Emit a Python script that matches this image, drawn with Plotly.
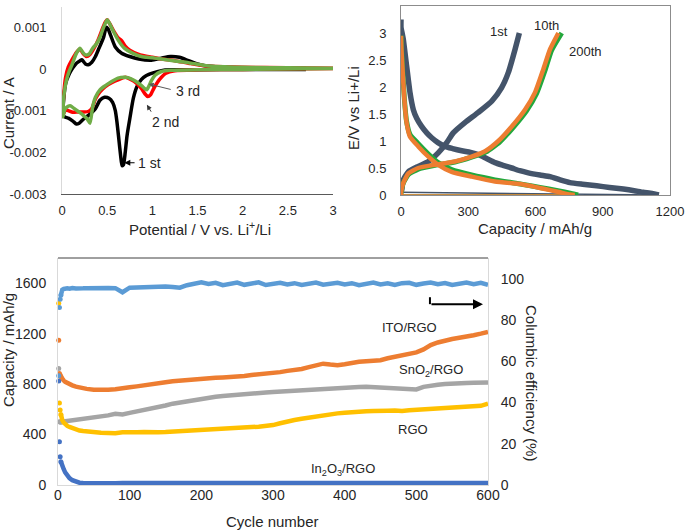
import plotly.graph_objects as go

# ---------------- Top-left: cyclic voltammetry ----------------
cv1_v = [2.7, 2.0, 1.5, 1.2, 1.1, 1.0, 0.93, 0.88, 0.83, 0.79, 0.75, 0.72, 0.70, 0.68, 0.665, 0.65, 0.63, 0.61, 0.59, 0.56, 0.52, 0.47, 0.42, 0.37, 0.30, 0.24, 0.19, 0.16, 0.12, 0.07, 0.03, 0.01,
         0.02, 0.04, 0.08, 0.12, 0.16, 0.2, 0.22, 0.26, 0.29, 0.33, 0.37, 0.41, 0.46, 0.49, 0.51, 0.54, 0.59, 0.66, 0.75, 0.85, 0.99, 1.1, 1.2, 1.3, 1.4, 1.5, 1.6, 1.8, 2.0, 2.5, 2.7]
cv1_i = [-0.00001, -0.00001, -0.00002, -0.00002, -0.00004, -0.0001, -0.00016, -0.00025, -0.00042, -0.0007, -0.0012, -0.0016, -0.002, -0.0023, -0.00232, -0.0021, -0.0017, -0.0013, -0.001, -0.0008, -0.0007, -0.00068, -0.00075, -0.00095, -0.0011, -0.0012, -0.0013, -0.00132, -0.00125, -0.00118, -0.00115, -0.0011,
         -0.0007, -0.00035, -0.00012, 0.00003, 0.00014, 0.0002, 0.00022, 0.00012, 0.0001, 0.00016, 0.0003, 0.0005, 0.00076, 0.001, 0.00096, 0.0008, 0.00053, 0.00038, 0.0003, 0.00024, 0.00021, 0.00026, 0.0003, 0.00028, 0.0002, 0.00012, 0.00007, 0.00004, 0.00003, 0.00002, 0.00001]

cv2_v = [3.0, 2.0, 1.5, 1.25, 1.15, 1.08, 1.02, 0.98, 0.95, 0.92, 0.88, 0.83, 0.76, 0.70, 0.62, 0.55, 0.48, 0.42, 0.37, 0.33, 0.29, 0.24, 0.18, 0.12, 0.07, 0.04, 0.01,
         0.02, 0.04, 0.07, 0.11, 0.16, 0.2, 0.23, 0.27, 0.31, 0.35, 0.40, 0.45, 0.48, 0.50, 0.53, 0.57, 0.62, 0.66, 0.70, 0.75, 0.85, 1.0, 1.1, 1.25, 1.4, 1.6, 2.0, 2.5, 3.0]
cv2_i = [0.00001, -0.00001, -0.00002, -0.00004, -0.0001, -0.00025, -0.00045, -0.00062, -0.00066, -0.0006, -0.00047, -0.00035, -0.00025, -0.0002, -0.00026, -0.00033, -0.00042, -0.00055, -0.00072, -0.00095, -0.00102, -0.00103, -0.00103, -0.00104, -0.001, -0.00098, -0.0011,
         -0.0006, -0.0002, 0.00005, 0.00022, 0.0004, 0.00048, 0.00038, 0.0003, 0.00035, 0.00048, 0.0007, 0.00098, 0.00113, 0.00118, 0.00108, 0.00092, 0.00075, 0.00068, 0.00055, 0.00045, 0.00035, 0.00028, 0.00024, 0.0002, 0.00014, 0.00007, 0.00004, 0.00003, 0.00002]

cv3_v = [3.0, 2.0, 1.5, 1.2, 1.1, 1.03, 0.99, 0.96, 0.94, 0.91, 0.87, 0.82, 0.76, 0.70, 0.62, 0.55, 0.48, 0.42, 0.37, 0.34, 0.31, 0.28, 0.23, 0.18, 0.13, 0.09, 0.05, 0.03, 0.01,
         0.02, 0.05, 0.08, 0.11, 0.16, 0.2, 0.23, 0.26, 0.30, 0.34, 0.38, 0.42, 0.46, 0.48, 0.50, 0.53, 0.56, 0.62, 0.69, 0.78, 0.88, 1.0, 1.1, 1.25, 1.4, 1.6, 2.0, 2.5, 3.0]
cv3_i = [0.00001, -0.00001, -0.00002, -0.00003, -0.00006, -0.00015, -0.00028, -0.00042, -0.0005, -0.00046, -0.00038, -0.0003, -0.00023, -0.0002, -0.00022, -0.0003, -0.0004, -0.0005, -0.00068, -0.0009, -0.0013, -0.0012, -0.0011, -0.00102, -0.00094, -0.00088, -0.00092, -0.00098, -0.00115,
         -0.00065, -0.00026, -0.00005, 0.0001, 0.00038, 0.0005, 0.0004, 0.00034, 0.00036, 0.0005, 0.0006, 0.00076, 0.001, 0.0011, 0.00118, 0.00108, 0.00094, 0.0007, 0.0005, 0.00038, 0.0003, 0.00027, 0.00024, 0.00019, 0.00015, 0.00008, 0.00004, 0.00003, 0.00002]

cv_yticks = [-0.003, -0.002, -0.001, 0, 0.001]
cv_yticktext = ["-0.003", "-0.002", "-0.001", "0", "0.001"]
cv_xticks = [0, 0.5, 1, 1.5, 2, 2.5, 3]
cv_xticktext = ["0", "0.5", "1", "1.5", "2", "2.5", "3"]

# ---------------- Top-right: charge / discharge ----------------
c1_dis_cap = [0, 0, 5, 10, 25, 40, 55, 70, 92, 115, 137, 165, 196, 230, 271, 310, 345, 380, 419, 455, 494, 530, 568, 620, 665, 710, 754, 810, 873, 930, 992, 1040, 1081, 1120, 1150]
c1_dis_e = [3.25, 3.1, 3.0, 2.89, 2.39, 1.9, 1.58, 1.42, 1.27, 1.15, 1.06, 0.97, 0.9, 0.86, 0.82, 0.79, 0.75, 0.68, 0.6, 0.55, 0.5, 0.45, 0.41, 0.37, 0.34, 0.28, 0.23, 0.2, 0.17, 0.14, 0.11, 0.08, 0.05, 0.03, 0.0]
c1_chg_cap = [0, 3, 10, 33, 77, 122, 166, 204, 233, 285, 345, 405, 449, 479, 509, 528]
c1_chg_e = [0.05, 0.09, 0.28, 0.43, 0.53, 0.62, 0.78, 0.97, 1.15, 1.34, 1.53, 1.74, 1.99, 2.27, 2.7, 3.0]

c10_dis_cap = [0, 2, 6, 15, 25, 40, 77, 122, 166, 226, 315, 419, 538, 575, 620, 665, 710, 754, 775]
c10_dis_e = [2.95, 2.7, 2.39, 1.77, 1.34, 1.08, 0.9, 0.71, 0.56, 0.43, 0.34, 0.25, 0.2, 0.17, 0.13, 0.09, 0.05, 0.01, 0.0]
c10_chg_cap = [0, 0, 10, 33, 77, 152, 241, 315, 375, 434, 494, 553, 598, 635, 665, 702]
c10_chg_e = [0.0, 0.03, 0.22, 0.4, 0.5, 0.56, 0.62, 0.71, 0.81, 1.0, 1.27, 1.58, 1.9, 2.33, 2.7, 3.0]

c200_dis_cap = [0, 2, 6, 15, 25, 40, 77, 122, 166, 226, 315, 419, 538, 620, 700, 760, 790]
c200_dis_e = [2.95, 2.7, 2.4, 1.78, 1.36, 1.12, 0.95, 0.76, 0.6, 0.47, 0.37, 0.28, 0.2, 0.14, 0.08, 0.03, 0.0]
c200_chg_cap = [0, 0, 10, 33, 77, 152, 241, 315, 380, 440, 500, 560, 605, 642, 672, 717]
c200_chg_e = [0.0, 0.03, 0.22, 0.38, 0.48, 0.55, 0.61, 0.7, 0.8, 0.98, 1.25, 1.56, 1.88, 2.3, 2.68, 3.0]

# ---------------- Bottom: cycling performance ----------------
cycles = [1, 2, 3, 4, 5, 6, 8, 10, 13, 16, 20, 25, 30, 35, 40,
          50, 60, 70, 80, 90, 100, 110, 120, 130, 140, 150, 160, 170, 180, 190, 200,
          210, 220, 230, 240, 250, 260, 270, 280, 290, 300, 310, 320, 330, 340, 350,
          360, 370, 380, 390, 400, 410, 420, 430, 440, 450, 460, 470, 480, 490, 500,
          510, 520, 530, 540, 550, 560, 570, 580, 590, 600]
efficiency = [53, 86, 90, 92, 94, 94.6, 95, 95.2, 95.3, 95.1, 95.4, 95.2, 95.5, 95.3, 95.4,
              95.6, 95.3, 95.5, 95.4, 93.4, 95.6, 95.8, 95.9, 96.0, 96.1, 96.2, 96.0, 95.6, 96.8, 97.5, 98.2,
              97.4, 98.0, 96.8, 97.6, 98.1, 97.0, 97.8, 98.2, 96.9, 97.4, 98.0, 97.2, 97.8, 96.9, 97.6,
              98.1, 97.1, 97.5, 98.0, 97.2, 97.8, 96.8, 97.6, 98.1, 97.2, 97.7, 96.9, 97.8, 98.0, 97.0,
              97.6, 98.1, 97.3, 97.9, 96.9, 97.5, 98.1, 97.3, 98.0, 97.0]
ito_rgo = [1148, 885, 872, 860, 848, 840, 828, 818, 808, 800, 790, 780, 772, 766, 762,
           755, 752, 756, 760, 764, 775, 782, 792, 802, 812, 815, 822, 828, 832, 838, 845,
           848, 850, 853, 855, 858, 865, 872, 876, 880, 885, 895, 905, 912, 920, 935,
           950, 962, 955, 950, 958, 970, 977, 982, 985, 990, 1005, 1015, 1028, 1040, 1052,
           1075, 1110, 1130, 1148, 1158, 1168, 1175, 1188, 1200, 1214]
sno2_rgo = [924, 502, 500, 498, 498, 500, 502, 505, 508, 510, 512, 515, 518, 522, 526,
            535, 545, 552, 565, 560, 572, 582, 592, 605, 618, 630, 645, 655, 665, 675, 685,
            692, 700, 706, 712, 718, 722, 725, 730, 734, 738, 742, 745, 748, 752, 756,
            760, 762, 766, 768, 770, 775, 778, 780, 776, 772, 770, 768, 765, 755, 758,
            778, 790, 795, 800, 805, 806, 808, 810, 812, 813]
rgo = [1441, 650, 594, 560, 528, 515, 495, 480, 468, 460, 450, 440, 432, 428, 424,
       418, 415, 412, 410, 418, 422, 418, 420, 417, 418, 420, 424, 428, 430, 435, 440,
       444, 448, 450, 455, 452, 456, 460, 462, 468, 475, 490, 505, 515, 525, 535,
       545, 552, 560, 568, 572, 578, 580, 585, 586, 584, 588, 590, 586, 592, 596,
       600, 602, 603, 606, 610, 612, 615, 620, 628, 645]
in2o3_rgo = [824, 343, 224, 185, 165, 150, 125, 100, 75, 55, 38, 25, 18, 16, 15,
             15, 14, 15, 14, 15, 15, 14, 15, 15, 14, 15, 15, 14, 15, 15, 14,
             15, 15, 14, 15, 15, 14, 15, 15, 14, 15, 15, 14, 15, 15, 14,
             15, 15, 14, 15, 15, 14, 15, 15, 14, 15, 15, 14, 15, 15, 14,
             15, 15, 14, 15, 15, 14, 15, 15, 14, 15]
cap_ticks = [0, 400, 800, 1200, 1600]
eff_ticks = [0, 20, 40, 60, 80, 100]
cycle_ticks = [0, 100, 200, 300, 400, 500, 600]

FONT = "Liberation Sans, Arial, sans-serif"
TXT = "#262626"
W, H = 685, 531


def X(px):
    return min(1.0, max(0.0, px / W))


def Y(py):
    return min(1.0, max(0.0, (H - py) / H))


fig = go.Figure()

# CV traces
for v, i, col in [(cv1_v, cv1_i, "#000000"), (cv2_v, cv2_i, "#ff0000"), (cv3_v, cv3_i, "#70ad47")]:
    fig.add_trace(go.Scatter(x=v, y=i, mode="lines", line=dict(color=col, width=3.5, shape="spline", smoothing=0.6),
                             xaxis="x", yaxis="y", showlegend=False, hoverinfo="skip"))

# Charge / discharge traces
cd_series = [
    (c1_dis_cap, c1_dis_e, c1_chg_cap, c1_chg_e, "#44546a", 5.5),
    (c200_dis_cap, c200_dis_e, c200_chg_cap, c200_chg_e, "#22a83c", 5),
    (c10_dis_cap, c10_dis_e, c10_chg_cap, c10_chg_e, "#ed7d31", 4.5),
]
for dc, de, cc, ce, col, w in cd_series:
    fig.add_trace(go.Scatter(x=[dc[-1], cc[0]], y=[de[-1], ce[0]], mode="lines", line=dict(color=col, width=1.5),
                             xaxis="x2", yaxis="y2", showlegend=False, hoverinfo="skip"))
    fig.add_trace(go.Scatter(x=dc, y=de, mode="lines", line=dict(color=col, width=w, shape="spline", smoothing=0.5),
                             xaxis="x2", yaxis="y2", showlegend=False, hoverinfo="skip"))
    fig.add_trace(go.Scatter(x=cc, y=ce, mode="lines", line=dict(color=col, width=w, shape="spline", smoothing=0.5),
                             xaxis="x2", yaxis="y2", showlegend=False, hoverinfo="skip"))

# Cycling traces
bottom = [
    (efficiency, "#5b9bd5", "y4"),
    (ito_rgo, "#ed7d31", "y3"),
    (sno2_rgo, "#a5a5a5", "y3"),
    (rgo, "#ffc000", "y3"),
    (in2o3_rgo, "#4472c4", "y3"),
]
for vals, col, ya in bottom:
    fig.add_trace(go.Scatter(x=cycles[3:], y=vals[3:], mode="lines", line=dict(color=col, width=4.5),
                             xaxis="x3", yaxis=ya, showlegend=False, hoverinfo="skip"))
    fig.add_trace(go.Scatter(x=cycles[:4], y=vals[:4], mode="markers", marker=dict(color=col, size=5),
                             xaxis="x3", yaxis=ya, showlegend=False, hoverinfo="skip", cliponaxis=False))

tf = dict(family=FONT, size=13, color=TXT)
tfb = dict(family=FONT, size=14, color=TXT)

fig.update_layout(
    width=W, height=H, margin=dict(l=0, r=0, t=0, b=0, autoexpand=False),
    paper_bgcolor="white", plot_bgcolor="white",
    font=dict(family=FONT, color=TXT),
    xaxis=dict(domain=[X(62), X(333)], anchor="y", range=[0, 3], tickvals=cv_xticks, ticktext=cv_xticktext,
               showgrid=False, zeroline=False, showline=True, linecolor="#595959", linewidth=1,
               ticks="", tickfont=tf, ticklabelstandoff=4, automargin=False),
    yaxis=dict(domain=[Y(194), Y(6.5)], anchor="x", range=[-0.003, 0.0015], tickvals=cv_yticks,
               ticktext=cv_yticktext, showgrid=False, zeroline=False, showline=True, linecolor="#d9d9d9",
               ticks="", tickfont=tf, ticklabelstandoff=12, automargin=False),
    xaxis2=dict(domain=[X(401), X(670)], anchor="y2", range=[0, 1200], tickvals=[0, 300, 600, 900, 1200],
                showgrid=False, zeroline=False, showline=True, mirror=True, linecolor="#8c8c8c",
                ticks="", tickfont=tf, ticklabelstandoff=4, automargin=False),
    yaxis2=dict(domain=[Y(195), Y(6)], anchor="x2", range=[0, 3.5],
                tickvals=[0, 0.5, 1, 1.5, 2, 2.5, 3, 3.5], showgrid=False, zeroline=False, showline=True,
                mirror=True, linecolor="#8c8c8c", ticks="", tickfont=tf, ticklabelstandoff=11, automargin=False),
    xaxis3=dict(domain=[X(58), X(488)], anchor="y3", range=[0, 600], tickvals=cycle_ticks,
                showgrid=False, zeroline=False, showline=True, linecolor="#d9d9d9",
                ticks="", tickfont=tfb, ticklabelstandoff=-3, automargin=False),
    yaxis3=dict(domain=[Y(485), Y(258)], anchor="x3", range=[0, 1800], tickvals=cap_ticks,
                showgrid=False, zeroline=False, showline=True, linecolor="#d9d9d9",
                ticks="", tickfont=tfb, ticklabelstandoff=8, automargin=False),
    yaxis4=dict(overlaying="y3", anchor="x3", side="right", range=[0, 110], tickvals=eff_ticks,
                showgrid=False, zeroline=False, showline=True, linecolor="#d9d9d9",
                ticks="", tickfont=tfb, ticklabelstandoff=9, automargin=False),
)

# top border of bottom panel
fig.add_shape(type="line", xref="x3 domain", yref="y3 domain", x0=0, x1=1, y0=1, y1=1,
              line=dict(color="#404040", width=1))

ann = []


def txt(x, y, s, size=15, angle=0, xref="paper", yref="paper"):
    ann.append(dict(x=x, y=y, xref=xref, yref=yref, text=s, showarrow=False, textangle=angle,
                    font=dict(family=FONT, size=size, color=TXT), xanchor="center", yanchor="middle"))


# axis titles
txt(X(8), Y(113), "Current / A", angle=-90)
txt(X(200), Y(228), "Potential / V vs. Li<sup>+</sup>/Li")
txt(X(353), Y(108), "E/V vs Li+/Li", angle=-90)
txt(X(535), Y(228), "Capacity / mAh/g")
txt(X(8), Y(350), "Capacity / mAh/g", angle=-90)
txt(X(272), Y(521), "Cycle number")
txt(X(532), Y(383), "Columbic efficiency (%)", angle=90)

# CV labels
txt(0.97, -0.00225, "1 st", size=14, xref="x", yref="y")
txt(1.15, -0.00127, "2 nd", size=14, xref="x", yref="y")
txt(1.39, -0.00053, "3 rd", size=14, xref="x", yref="y")
# charge/discharge labels
txt(437, 3.02, "1st", size=13, xref="x2", yref="y2")
txt(651, 3.13, "10th", size=13, xref="x2", yref="y2")
txt(825, 2.66, "200th", size=13, xref="x2", yref="y2")
# cycling labels
txt(490, 1251, "ITO/RGO", size=13, xref="x3", yref="y3")
txt(520, 911, "SnO<sub>2</sub>/RGO", size=13, xref="x3", yref="y3")
txt(495, 443, "RGO", size=13, xref="x3", yref="y3")
txt(397, 119, "In<sub>2</sub>O<sub>3</sub>/RGO", size=13, xref="x3", yref="y3")


def arrow(x, y, ax, ay, xref, yref, color, width):
    ann.append(dict(x=x, y=y, ax=ax, ay=ay, xref=xref, yref=yref, axref=xref, ayref=yref, text="",
                    showarrow=True, arrowhead=2, arrowsize=1, arrowwidth=width, arrowcolor=color))


arrow(0.69, -0.00225, 0.82, -0.00225, "x", "y", "#000000", 1.2)
arrow(0.94, -0.00086, 0.997, -0.00106, "x", "y", "#333333", 1)
arrow(0.96, -0.00036, 1.22, -0.0005, "x", "y", "#595959", 1)
arrow(593, 1434, 519, 1434, "x3", "y3", "#000000", 2)

fig.add_shape(type="line", xref="x3", yref="y3", x0=519, x1=519, y0=1489, y1=1434,
              line=dict(color="#000000", width=2))

fig.update_layout(annotations=ann)
# remove the page's default 8px body margin so the 685x531 figure fills the window exactly
fig.write_html("out.html", config={"displayModeBar": False},
               post_script="document.body.style.margin='0px';document.body.style.overflow='hidden';")
